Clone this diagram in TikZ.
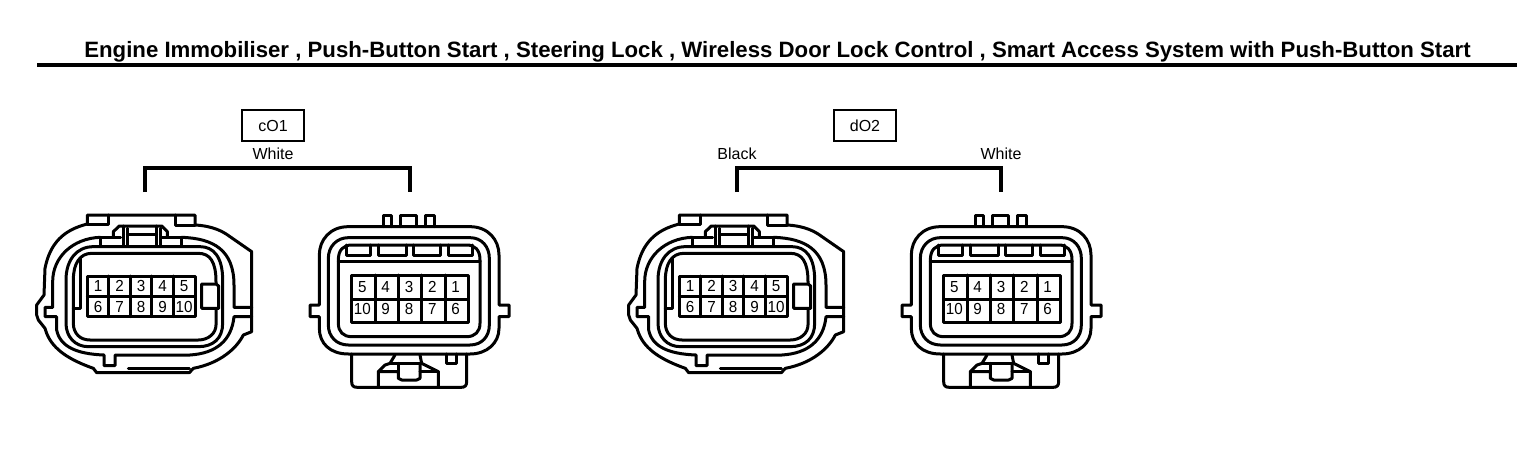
\documentclass[tikz,border=0pt]{standalone}
\usepackage{fontspec}
\setmainfont{Liberation Sans}
\tikzset{
 x=1pt,y=-1pt,
 wall/.style={line width=3pt,line join=round,line cap=round},
 pin/.style={font=\fontsize{16}{16}\selectfont,inner sep=0pt,text=black,xscale=0.95},
 label/.style={font=\fontsize{16}{16}\selectfont,inner sep=0pt,text=black},
 tag/.style={draw,line width=2.6pt,minimum width=62pt,minimum height=31pt,inner sep=0pt,font=\fontsize{16}{16}\selectfont},
 bracket/.style={line width=3.4pt,line join=miter},
 zoomed/.style={x=0.33333pt,y=-0.33333pt}
}
% #1 prefix, #2 x origin
\newcommand{\connLeft}[2]{%
\begin{scope}[shift={(#2,200)},zoomed]
 % outer shell
 \draw[wall] (172,72)--(172,45)--(495,45)--(495,75)
   .. controls (550,78) and (580,95) .. (600,110)--(665,155)--(665,395)--(640,405)
   .. controls (620,445) and (570,490) .. (490,505)--(478,518)--(200,518)--(190,505)
   .. controls (120,480) and (70,450) .. (50,400)--(45,385)--(25,360)--(20,345)--(20,315)--(42,285)--(45,205)
   .. controls (60,130) and (100,90) .. (172,72);
 \draw[wall] (172,72)--(235,72)--(235,45);
 \draw[wall] (495,75)--(435,75)--(435,45);
 \draw[wall] (295,505)--(478,505);
 % second wall
 \draw[wall] (210,112) .. controls (130,115) and (68,170) .. (68,245)--(68,322)--(45,322)--(45,350)--(80,350)--(80,390)
   .. controls (90,440) and (140,462) .. (222,465)--(222,497)--(255,497)--(255,465)--(480,465)
   .. controls (560,460) and (605,420) .. (612,350)--(665,350);
 \draw[wall] (455,112) .. controls (550,115) and (612,150) .. (612,255)--(612,322)--(665,322);
 % bridge
 \draw[wall] (210,112)--(210,138) (455,112)--(455,138);
 \draw[wall] (210,112)--(272,112) (392,112)--(455,112);
 \draw[wall] (250,112)--(250,95)--(268,78)--(395,78)--(412,95)--(412,112);
 \draw[wall] (280,78)--(280,138) (292,85)--(292,138) (380,78)--(380,138) (392,85)--(392,138);
 \draw[wall] (292,102)--(380,102);
 % inner walls
 \draw[wall] (108,240) .. controls (108,180) and (140,140) .. (190,140)--(510,140)
   .. controls (550,140) and (578,170) .. (578,240)--(578,370)
   .. controls (578,415) and (550,440) .. (505,440)--(175,440)
   .. controls (135,440) and (108,410) .. (108,370)--cycle;
 \draw[wall] (130,240) .. controls (130,190) and (150,160) .. (185,160)--(505,160)
   .. controls (540,160) and (558,185) .. (558,245)--(558,375)
   .. controls (558,400) and (535,420) .. (505,420)--(180,420)
   .. controls (150,420) and (130,400) .. (130,370)--cycle;
 \draw[wall] (130,325)--(150,325)--(150,175);
 % key
 \fill[white] (515,255) rectangle (566,325);
 \draw[wall] (515,252)--(515,325)--(566,325)--(566,258)--(558,252)--cycle;
 % pins
 \draw[wall] (172,228) rectangle (495,350);
 \draw[wall] (172,290)--(495,290);
 \foreach \c in {1,2,3,4} \draw[wall] ({172+\c*64.6},228)--({172+\c*64.6},350);
 \foreach \n [count=\i from 0] in {1,2,3,4,5}
   \node[pin] (#1t\n) at ({204+\i*64.6},258) {\n};
 \foreach \n [count=\i from 0] in {6,7,8,9,10}
   \node[pin] (#1b\n) at ({204+\i*64.6},320) {\n};
\end{scope}}
\newcommand{\connRight}[2]{%
\begin{scope}[shift={(#2,200)},zoomed]
 % tabs
 \draw[wall] (220,80)--(220,45)--(245,45)--(245,80);
 \draw[wall] (272,80)--(272,45)--(320,45)--(320,80);
 \draw[wall] (345,80)--(345,45)--(372,45)--(372,80);
 % latch body
 \draw[wall] (125,462)--(125,545) .. controls (125,557) and (130,562) .. (142,562)--(453,562) .. controls (465,562) and (470,557) .. (470,545)--(470,462);
 \draw[wall] (408,462)--(408,490)--(440,490)--(440,462);
 \draw[wall] (205,562)--(205,515)--(225,495)--(240,490)--(255,465);
 \draw[wall] (385,562)--(385,515)--(355,500)--(335,490)--(330,465);
 \draw[wall] (240,490)--(335,490);
 \draw[wall] (205,515)--(265,515)--(265,535)--(275,540)--(320,540)--(330,535)--(330,490);
 \draw[wall] (265,515)--(265,490) (330,515)--(385,515);
 % shell
 \draw[wall] (28,315)--(28,165) .. controls (28,120) and (60,80) .. (115,80)--(480,80)
   .. controls (535,80) and (567,120) .. (567,165)--(567,315)--(597,315)--(597,350)--(567,350)--(567,385)
   .. controls (567,430) and (530,462) .. (480,462)--(115,462)
   .. controls (60,462) and (28,430) .. (28,385)--(28,350)--(0,350)--(0,315)--cycle;
 \draw[wall] (55,175) .. controls (55,140) and (80,113) .. (115,113)--(480,113)
   .. controls (515,113) and (538,140) .. (538,175)--(538,375)
   .. controls (538,410) and (515,435) .. (480,435)--(115,435)
   .. controls (80,435) and (55,410) .. (55,375)--cycle;
 \draw[wall] (85,180) .. controls (85,150) and (100,135) .. (125,135)--(470,135)
   .. controls (495,135) and (510,150) .. (510,180)--(510,370)
   .. controls (510,395) and (495,410) .. (470,410)--(125,410)
   .. controls (100,410) and (85,395) .. (85,370)--cycle;
 \draw[wall] (85,185)--(510,185);
 \draw[wall] (108,135)--(108,165)--(182,165)--(182,135);
 \draw[wall] (205,135)--(205,165)--(290,165)--(290,135);
 \draw[wall] (310,135)--(310,165)--(390,165)--(390,135);
 \draw[wall] (415,135)--(415,165)--(488,165)--(488,135);
 % pins
 \draw[wall] (125,225) rectangle (475,367);
 \draw[wall] (125,297)--(475,297);
 \foreach \c in {1,2,3,4} \draw[wall] ({125+\c*70},225)--({125+\c*70},367);
 \foreach \n [count=\i from 0] in {5,4,3,2,1}
   \node[pin] (#1t\n) at ({157+\i*70},260) {\n};
 \foreach \n [count=\i from 0] in {10,9,8,7,6}
   \node[pin] (#1b\n) at ({157+\i*70},328) {\n};
\end{scope}}
\begin{document}
\begin{tikzpicture}
\useasboundingbox (0,0) rectangle (1536,460);
\node[inner sep=0pt,font=\bfseries\fontsize{22.2}{22.2}\selectfont] (title) at (777.5,51.5) {Engine Immobiliser , Push-Button Start , Steering Lock , Wireless Door Lock Control , Smart Access System with Push-Button Start};
\coordinate (ruleL) at (37,65);
\coordinate (ruleR) at (1517,65);
\draw[line width=3.4pt] (ruleL)--(ruleR);
% left group
\node[tag] (tagA) at (273,125.5) {cO1};
\node[label] (whiteA) at (273,153.5) {White};
\coordinate (a1) at (145,192);
\coordinate (a2) at (410,192);
\draw[bracket] (a1)--(145,168)--(410,168)--(a2);
\connLeft{pa}{30}
\connRight{qa}{310}
% right group
\node[tag] (tagB) at (865,125.5) {dO2};
\node[label] (blackB) at (737,153.5) {Black};
\node[label] (whiteB) at (1001,153.5) {White};
\coordinate (b1) at (737,192);
\coordinate (b2) at (1001,192);
\draw[bracket] (b1)--(737,168)--(1001,168)--(b2);
\connLeft{pb}{622}
\connRight{qb}{902}
\end{tikzpicture}
\end{document}
